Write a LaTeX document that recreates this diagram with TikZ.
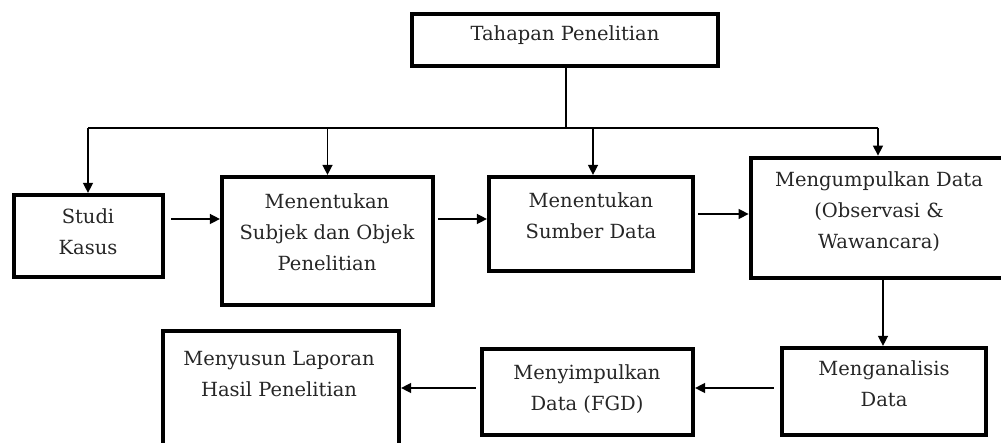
\documentclass[tikz,border=0pt]{standalone}
\usepackage{fontspec}
\setmainfont{DejaVu Serif}
\usetikzlibrary{fit,arrows.meta}
\begin{document}
\begin{tikzpicture}[x=1pt,y=-1pt,
  box/.style={draw=black,line width=4.2pt,inner sep=0pt,rectangle},
  txt/.style={align=center,font=\fontsize{19.5}{31}\selectfont,text=black!85,inner sep=0pt},
  conn/.style={draw=black,line width=1.4pt},
  arr/.style={conn,-{Triangle[length=10pt,width=10pt]}}]
\clip (0,0) rectangle (1001,443);
% boxes
\node[box,line width=4.8pt,fit={(412,14) (718,66)}] (top) {};
\node[box,fit={(14,195) (163,277)}] (studi) {};
\node[box,fit={(222,177) (433,305)}] (subjek) {};
\node[box,fit={(489,177) (693,271)}] (sumber) {};
\node[box,line width=4.8pt,fit={(751,158) (1008,278)}] (kumpul) {};
\node[box,fit={(163,331) (399,470)}] (susun) {};
\node[box,fit={(482,349) (693,435)}] (simpul) {};
\node[box,fit={(782,348) (986,435)}] (analisis) {};
% texts
\node[txt] (ttop) at (565,35) {Tahapan Penelitian};
\node[txt] (tstudi) at (88,232) {Studi\\Kasus};
\node[txt] (tsubjek) at (327,232) {Menentukan\\Subjek dan Objek\\Penelitian};
\node[txt] (tsumber) at (591,216) {Menentukan\\Sumber Data};
\node[txt] (tkumpul) at (879,212) {Mengumpulkan Data\\(Observasi \&\\Wawancara)};
\node[txt] (tsusun) at (279,374) {Menyusun Laporan\\Hasil Penelitian};
\node[txt] (tsimpul) at (587,389) {Menyimpulkan\\Data (FGD)};
\node[txt] (tanalisis) at (884,384) {Menganalisis\\Data};
% connectors
\coordinate (bus) at (566,128);
\coordinate (busL) at (88,128);
\coordinate (busR) at (878,128);
\draw[conn] (top.south -| bus) -- (bus);
\draw[conn] (busL) -- (busR);
\draw[arr] (busL) -- (studi.north -| busL);
\draw[arr] (subjek.north |- bus) -- (subjek.north);
\draw[arr] (593,128) -- (sumber.north -| 593,0);
\draw[arr] (busR) -- (kumpul.north -| busR);
\draw[arr] ([xshift=6pt]studi.east |- 0,219) -- (subjek.west |- 0,219);
\draw[arr] ([xshift=3pt]subjek.east |- 0,219) -- (sumber.west |- 0,219);
\draw[arr] ([xshift=3pt]sumber.east |- 0,214) -- (kumpul.west |- 0,214);
\draw[arr] (kumpul.south -| 883,0) -- (analisis.north -| 883,0);
\draw[arr] ([xshift=-6pt]analisis.west |- 0,388) -- (simpul.east |- 0,388);
\draw[arr] ([xshift=-4pt]simpul.west |- 0,388) -- (susun.east |- 0,388);
\end{tikzpicture}
\end{document}
